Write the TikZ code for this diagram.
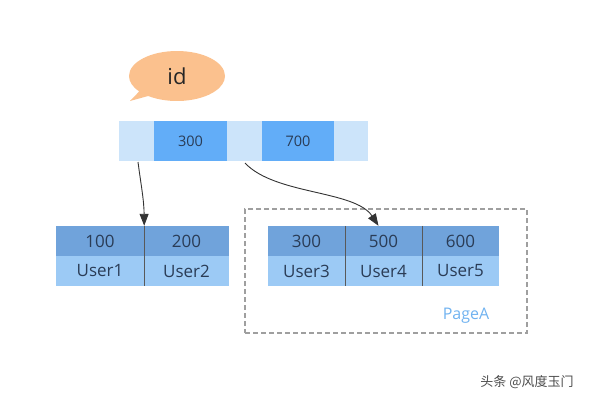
\documentclass[tikz,border=0pt]{standalone}
\usepackage{fontspec}
\setmainfont{Open Sans}
\newfontfamily\cjk{Noto Sans CJK SC}
\usetikzlibrary{arrows.meta,shapes.callouts}
\definecolor{lightcell}{HTML}{CCE4FA}
\definecolor{darkcell}{HTML}{62ADF8}
\definecolor{rowtop}{HTML}{70A3DB}
\definecolor{rowbot}{HTML}{9CCAF5}
\definecolor{txt}{HTML}{2A3C56}
\definecolor{peach}{HTML}{FBC18E}
\definecolor{pagecol}{HTML}{6FB2F0}
\tikzset{
  cell/.style={minimum height=40pt, inner sep=0pt, font=\fontsize{14.5}{17}\selectfont, text=txt},
  tcell/.style={minimum width=77pt, minimum height=30pt, inner sep=0pt, draw=none, font=\fontsize{17}{20}\selectfont, text=txt},
  sep/.style={draw=gray!70!black, line width=0.6pt},
  arr/.style={-{Triangle[length=12pt,width=9pt]}, line width=0.9pt, draw=black!80}
}
\begin{document}
\begin{tikzpicture}[x=1pt,y=-1pt]
\useasboundingbox (0,0) rectangle (600,400);
% bubble
\node[ellipse callout, fill=peach, minimum width=96pt, minimum height=50pt, callout absolute pointer={(130,101)}, font=\fontsize{22}{26}\selectfont, text=black!85] (bubble) at (177,76) {id};
% top row
\node[cell, fill=lightcell, minimum width=35pt] (t1) at (136.5,141) {};
\node[cell, fill=darkcell, minimum width=73pt] (t2) at (190.5,141) {300};
\node[cell, fill=lightcell, minimum width=35pt] (t3) at (244.5,141) {};
\node[cell, fill=darkcell, minimum width=72pt] (t4) at (298,141) {700};
\node[cell, fill=lightcell, minimum width=34pt] (t5) at (351,141) {};
% left table
\node[tcell, fill=rowtop, minimum width=88pt] (a1) at (100,241) {100};
\node[tcell, fill=rowtop, minimum width=85pt] (a2) at (186.5,241) {200};
\node[tcell, fill=rowbot, minimum width=88pt] (b1) at (100,271) {User1};
\node[tcell, fill=rowbot, minimum width=85pt] (b2) at (186.5,271) {User2};
\draw[sep] (a1.north east) -- (b1.south east);
% page box
\node[draw=gray!75, dashed, dash pattern=on 5pt off 3pt, line width=1.3pt, minimum width=282pt, minimum height=124pt, inner sep=0pt] (page) at (386,271) {};
\node[text=pagecol, font=\fontsize{16}{19}\selectfont, anchor=center] (pagea) at (466,316) {PageA};
% right table
\node[tcell, fill=rowtop] (c1) at (306.5,241) {300};
\node[tcell, fill=rowtop] (c2) at (383.5,241) {500};
\node[tcell, fill=rowtop] (c3) at (460.5,241) {600};
\node[tcell, fill=rowbot] (d1) at (306.5,271) {User3};
\node[tcell, fill=rowbot] (d2) at (383.5,271) {User4};
\node[tcell, fill=rowbot] (d3) at (460.5,271) {User5};
\draw[sep] (c1.north east) -- (d1.south east);
\draw[sep] (c2.north east) -- (d2.south east);
% arrows
\coordinate (s1) at (138,162);
\coordinate (s2) at (245,163);
\draw[arr] (s1) .. controls (141,185) and (144,200) .. (a1.north east);
\draw[arr] (s2) .. controls (275,195) and (355,190) .. ([xshift=-5pt]c2.north);
% watermark
\node[font=\cjk\fontsize{13}{15}\selectfont, text=black!70] (wm) at (527,382) {头条 @风度玉门};
\end{tikzpicture}
\end{document}
